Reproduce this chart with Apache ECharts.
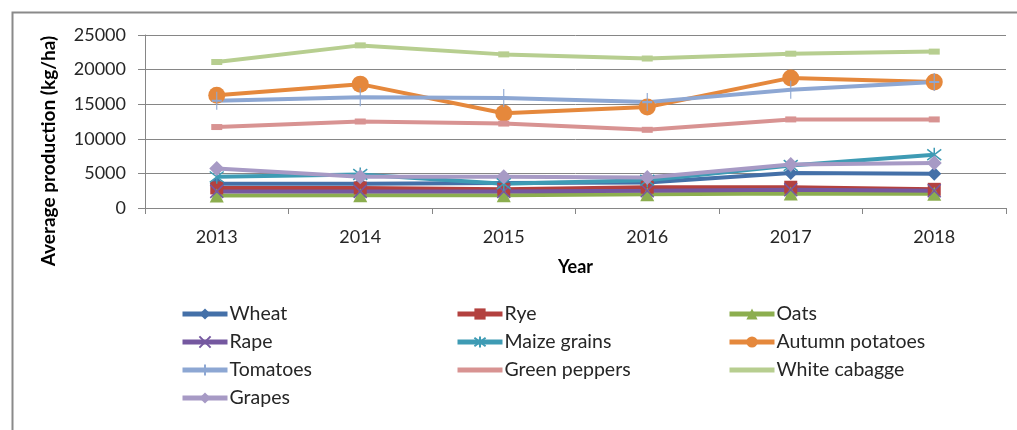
<!DOCTYPE html>
<html><head><meta charset="utf-8">
<script src="https://cdn.jsdelivr.net/npm/echarts@6/dist/echarts.min.js"></script>
<style>html,body{margin:0;padding:0;background:#fff}#c{width:1017px;height:430px}</style>
</head><body><div id="c"></div>
<script>
var years = ['2013','2014','2015','2016','2017','2018'];
var yTicks = [0, 5000, 10000, 15000, 20000, 25000];
var wheat    = [3500, 3500, 3600, 3700, 5050, 4950];
var rye      = [2900, 2900, 2700, 3000, 3000, 2700];
var oats     = [1800, 1850, 1850, 2000, 2100, 2050];
var rape     = [2400, 2400, 2400, 2500, 2650, 2500];
var maize    = [4500, 4850, 3500, 4000, 6150, 7700];
var potatoes = [16300, 17900, 13700, 14600, 18800, 18200];
var tomatoes = [15500, 16000, 15900, 15300, 17100, 18200];
var peppers  = [11700, 12500, 12200, 11300, 12800, 12800];
var cabbage  = [21100, 23500, 22200, 21600, 22300, 22600];
var grapes   = [5700, 4500, 4500, 4400, 6300, 6500];

var FONT = 'Lato';
var xPath = 'path://M0,0L10,10M10,0L0,10';
var starPath = 'path://M0,0L10,10M10,0L0,10M5,-1.5L5,11.5';
var plusPath = 'path://M5,0L5,20M1,10L9,10';

function mk(name, data, color, symbol, size, stroke) {
  return {
    name: name, type: 'line', data: data, color: color,
    symbol: symbol, symbolSize: size, showSymbol: true,
    lineStyle: {width: 4, color: color},
    itemStyle: {color: color, borderColor: color, borderWidth: stroke || 0},
    emphasis: {disabled: true}, animation: false, z: 2
  };
}

var series = [
  mk('Wheat', wheat, '#4470A8', 'diamond', 14),
  mk('Rye', rye, '#B3413F', 'rect', 13),
  mk('Oats', oats, '#8CAE4F', 'triangle', 14),
  mk('Rape', rape, '#7558A0', xPath, 13, 1.5),
  mk('Maize grains', maize, '#3E9BB4', starPath, 14, 1.5),
  mk('Autumn potatoes', potatoes, '#E5883C', 'circle', 17),
  mk('Tomatoes', tomatoes, '#8DA7D3', plusPath, [10, 18], 1.5),
  mk('Green peppers', peppers, '#D89392', 'rect', [11, 6]),
  mk('White cabagge', cabbage, '#B7CE90', 'rect', [11, 6]),
  mk('Grapes', grapes, '#A79AC5', 'diamond', 15)
];

var noMark = ['Green peppers', 'White cabagge'];
function legend(left, names) {
  return {
    orient: 'vertical', left: left, top: 304, padding: 0,
    itemGap: 8, itemWidth: 45, itemHeight: 14,
    selectedMode: false,
    data: names.map(function (n) {
      return noMark.indexOf(n) >= 0 ? {name: n, itemStyle: {opacity: 0}} : {name: n};
    }),
    lineStyle: {width: 5},
    textStyle: {fontFamily: FONT, fontSize: 19.5, color: '#262626', lineHeight: 18, padding: [0,0,0,-3]}
  };
}

var chart = echarts.init(document.getElementById('c'), null, {renderer: 'canvas'});
chart.setOption({
  animation: false,
  backgroundColor: '#fff',
  grid: {left: 145, right: 11, top: 35, bottom: 222},
  xAxis: {
    type: 'category', data: years, boundaryGap: true,
    name: 'Year', nameLocation: 'middle', nameGap: 50,
    nameTextStyle: {fontFamily: FONT, fontSize: 18, fontWeight: 'bold', color: '#000'},
    axisLine: {lineStyle: {color: '#868686', width: 1}},
    axisTick: {show: true, length: 6, lineStyle: {color: '#868686'}},
    axisLabel: {fontFamily: FONT, fontSize: 18, color: '#262626', margin: 20}
  },
  yAxis: {
    type: 'value', min: yTicks[0], max: yTicks[yTicks.length - 1], interval: yTicks[1] - yTicks[0],
    axisLine: {show: true, lineStyle: {color: '#868686', width: 1}},
    axisTick: {show: true, length: 7, lineStyle: {color: '#868686'}},
    splitLine: {lineStyle: {color: '#868686', width: 1}},
    axisLabel: {fontFamily: FONT, fontSize: 18, color: '#262626', margin: 19,
                formatter: function (v) { return String(v); }}
  },
  legend: [
    legend(180, ['Wheat', 'Rape', 'Tomatoes', 'Grapes']),
    legend(455, ['Rye', 'Maize grains', 'Green peppers']),
    legend(727, ['Oats', 'Autumn potatoes', 'White cabagge'])
  ],
  graphic: [
    {type: 'rect', left: 10, top: 10, silent: true,
     shape: {x: 0, y: 0, width: 1200, height: 600},
     style: {fill: 'none', stroke: '#8a8a8a', lineWidth: 2}},
    {type: 'text', x: 49, y: 151, rotation: Math.PI / 2, silent: true,
     style: {text: 'Average production (kg/ha)', fontFamily: FONT, fontSize: 19, fontWeight: 'bold',
             fill: '#000', align: 'center', verticalAlign: 'middle'}}
  ],
  series: series
});
</script></body></html>
